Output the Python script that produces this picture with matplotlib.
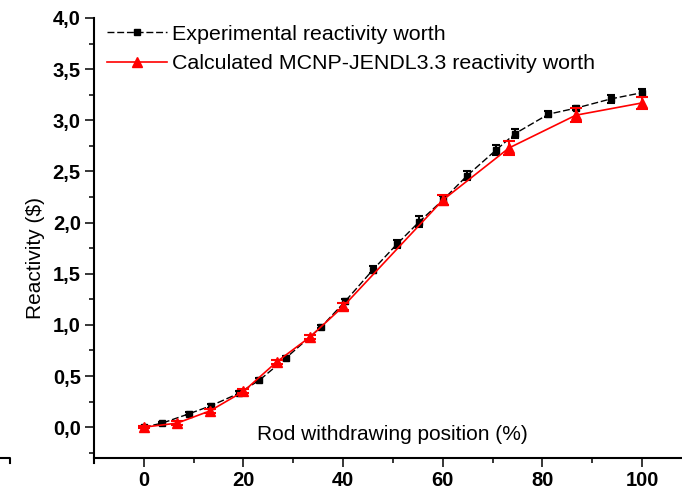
import matplotlib
matplotlib.use('Agg')
import matplotlib.pyplot as plt
import numpy as np

from matplotlib.ticker import MultipleLocator, FuncFormatter
from matplotlib.lines import Line2D

plt.rcParams['font.family'] = ['Liberation Sans', 'DejaVu Sans']

# experimental rod worth (black squares)
exp_x = [0, 3.7, 9, 13.5, 19, 23.2, 28.6, 35.6, 40.4, 46, 50.8, 55.3, 60,
         64.9, 70.7, 74.5, 81.2, 86.8, 93.8, 100]
exp_y = [0.0, 0.04, 0.13, 0.21, 0.33, 0.46, 0.68, 0.98, 1.23, 1.54, 1.79,
         2.01, 2.22, 2.46, 2.71, 2.87, 3.06, 3.12, 3.21, 3.27]
exp_err = [0.01, 0.01, 0.015, 0.02, 0.02, 0.02, 0.02, 0.015, 0.025, 0.035,
           0.035, 0.05, 0.04, 0.04, 0.045, 0.045, 0.03, 0.02, 0.04, 0.04]

# calculated MCNP-JENDL3.3 rod worth (red triangles)
calc_x = [0, 6.7, 13.3, 20, 26.7, 33.3, 40, 60, 73.3, 86.7, 100]
calc_y = [0.0, 0.04, 0.16, 0.35, 0.64, 0.88, 1.18, 2.22, 2.73, 3.05, 3.17]
calc_err = [0.01, 0.02, 0.02, 0.02, 0.02, 0.02, 0.03, 0.05, 0.065, 0.07, 0.06]

labels = ['Experimental reactivity worth',
          'Calculated MCNP-JENDL3.3 reactivity worth']

fig = plt.figure(figsize=(6.82, 4.92), dpi=100)
ax = fig.add_axes([94 / 682, 29 / 492, 588 / 682, 445 / 492])

exp_plot = ax.errorbar(exp_x, exp_y, yerr=exp_err, color='black', marker='s',
                       ms=4, lw=1, ls=(0, (5, 2)), capsize=3.2, capthick=1.5,
                       elinewidth=1.5, zorder=2)
calc_plot = ax.errorbar(calc_x, calc_y, yerr=calc_err, color='red', marker='^',
                        ms=6.5, lw=1.2, ls='-', capsize=4.3, capthick=1.5,
                        elinewidth=1.5, zorder=3)

# customizing chart
ax.set_xlim(-10, 108)
ax.set_ylim(-0.35, 4.0)
ax.spines['top'].set_visible(False)
ax.spines['right'].set_visible(False)
ax.spines['bottom'].set_position(('data', -0.30))
ax.spines['left'].set_linewidth(1.5)
ax.spines['bottom'].set_linewidth(1.5)

ax.xaxis.set_major_locator(MultipleLocator(20))
ax.xaxis.set_minor_locator(MultipleLocator(10))
ax.yaxis.set_major_locator(MultipleLocator(0.5))
ax.yaxis.set_minor_locator(MultipleLocator(0.25))
ax.xaxis.set_major_formatter(FuncFormatter(lambda v, p: '%d' % round(v)))
ax.yaxis.set_major_formatter(FuncFormatter(lambda v, p: ('%.1f' % v).replace('.', ',')))

ax.tick_params(which='major', length=6.5, width=1.1, direction='out',
               labelsize=14.5, pad=3)
ax.tick_params(which='minor', length=3.5, width=1.1, direction='out')
for lab in ax.get_xticklabels() + ax.get_yticklabels():
    lab.set_fontweight('bold')

ax.set_xlabel('Rod withdrawing position (%)', fontsize=15)
ax.xaxis.set_label_coords(0.508, 0.085)
ax.set_ylabel('Reactivity ($)', fontsize=15)
ax.yaxis.set_label_coords(-0.083, 0.46)

ax.legend([exp_plot[0], calc_plot[0]], labels, loc='upper left',
          bbox_to_anchor=(0.022, 0.985), frameon=False,
          fontsize=15.4, handlelength=2.8, handletextpad=0.25,
          labelspacing=0.5, borderpad=0, borderaxespad=0)

# fragment of the neighbouring panel's frame at the left edge
fig.add_artist(Line2D([0, 10 / 682, 10 / 682],
                      [1 - 458 / 492, 1 - 458 / 492, 1 - 463 / 492],
                      color='black', lw=1.5))

plt.savefig('out.png', dpi=100)
plt.close(fig)
